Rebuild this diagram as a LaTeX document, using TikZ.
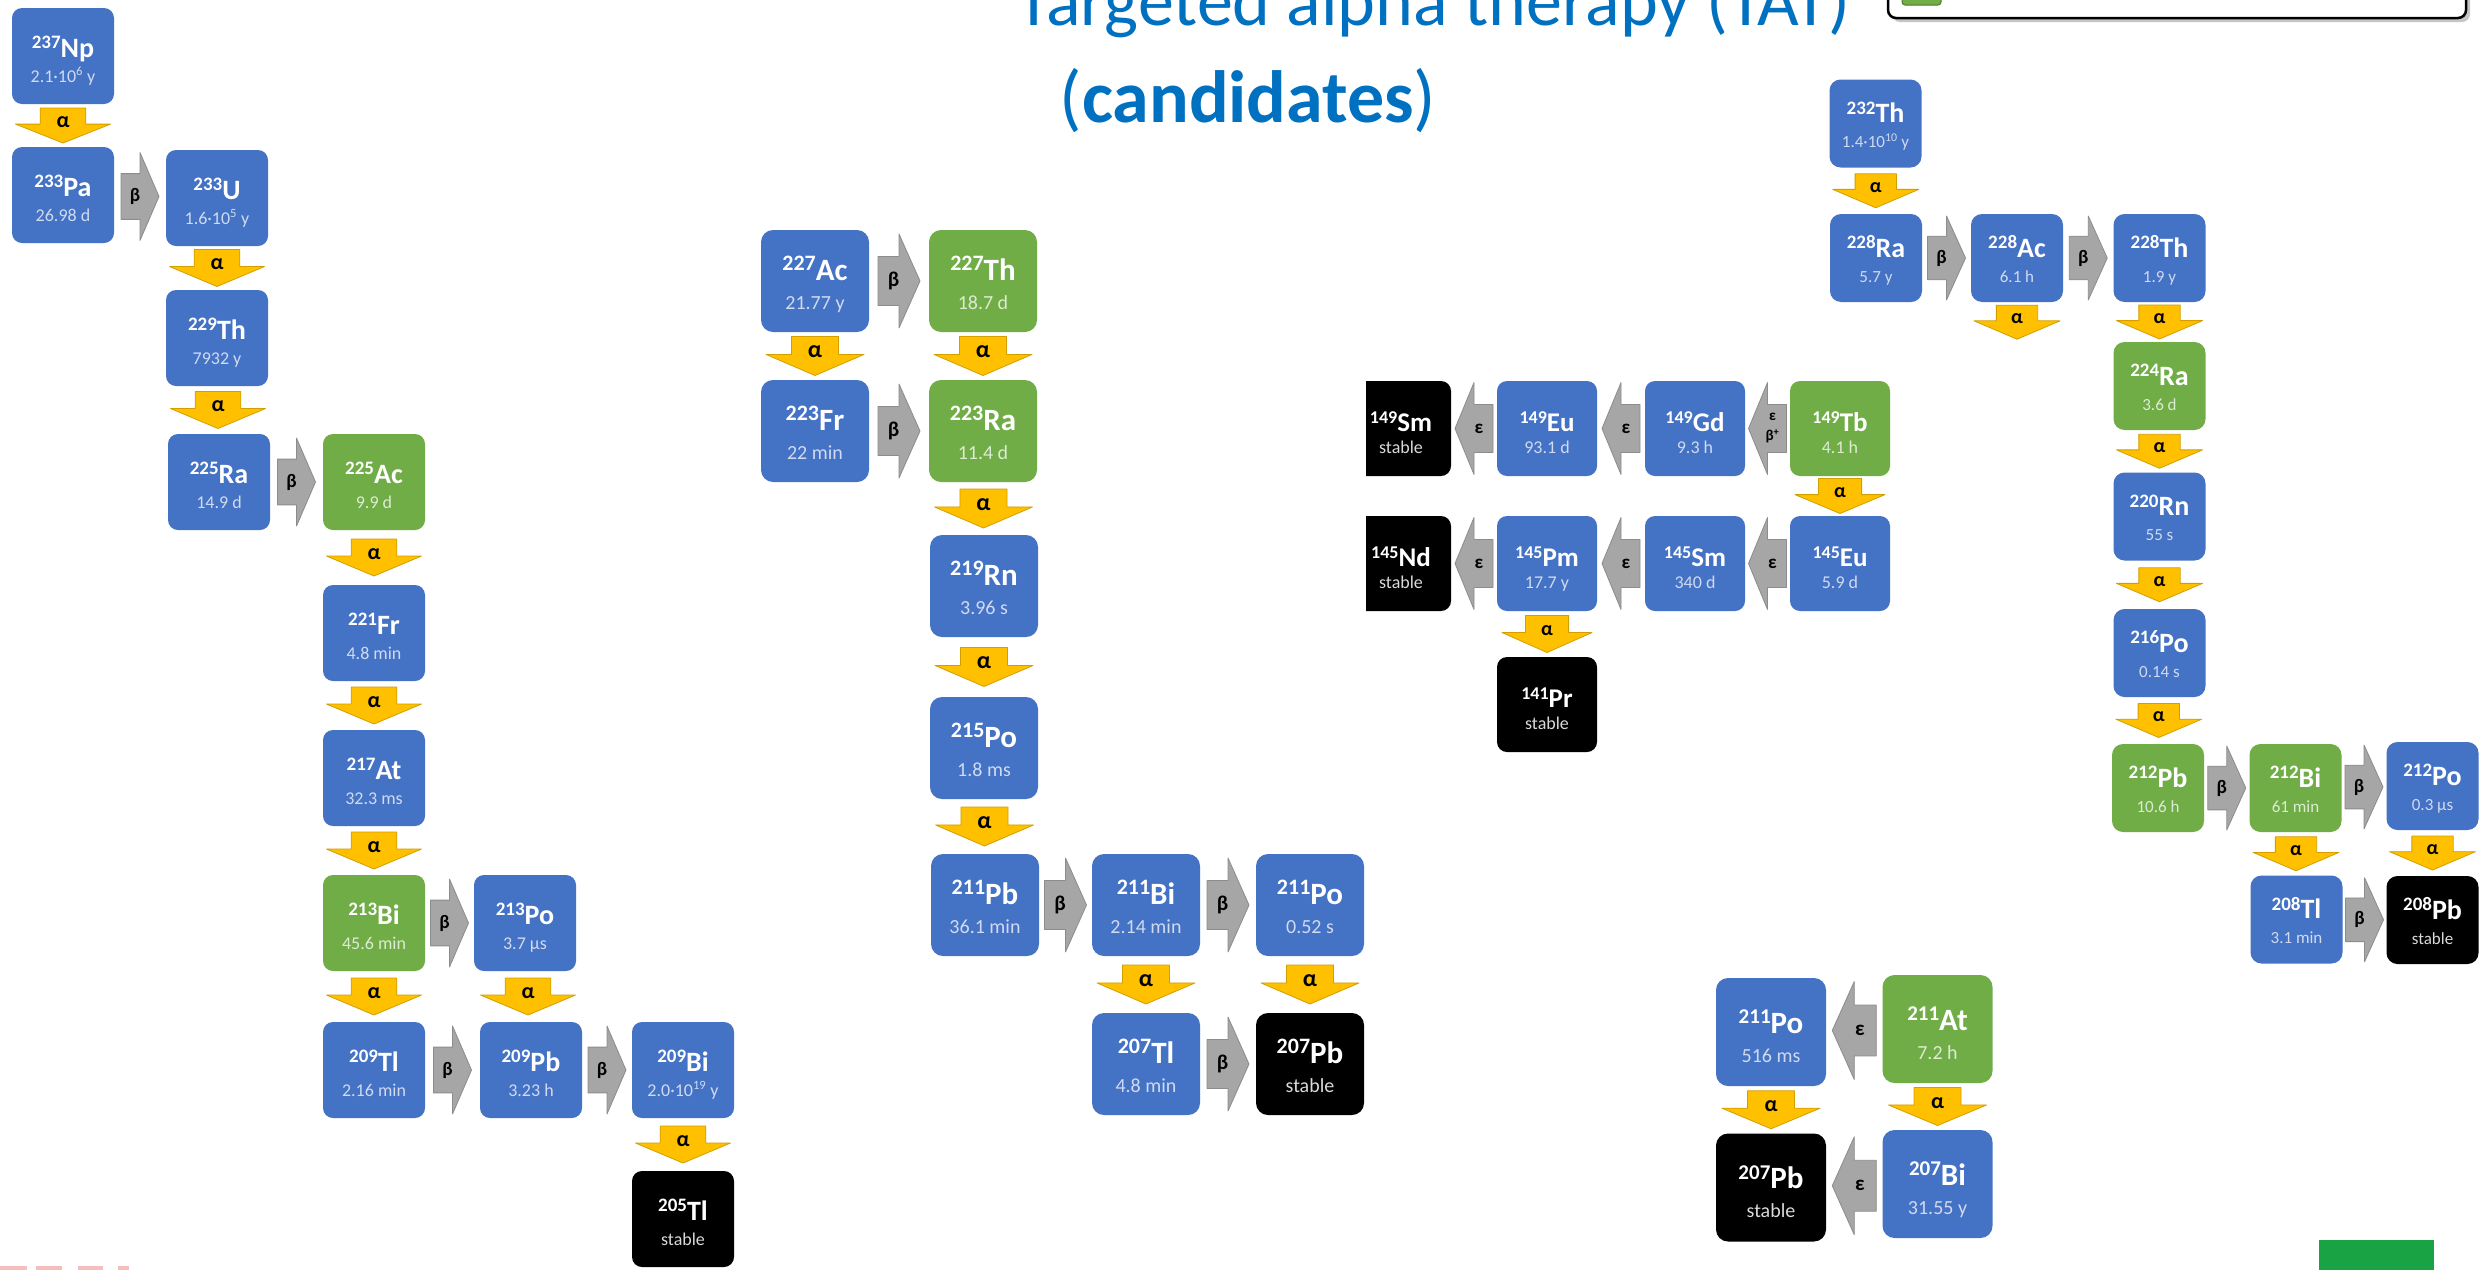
\documentclass[tikz,border=0pt]{standalone}
\usepackage{fontspec}
\setmainfont{Carlito}
\usetikzlibrary{calc}
\definecolor{boxblue}{HTML}{4472C4}
\definecolor{boxgreen}{HTML}{70AD47}
\definecolor{bboxhl}{HTML}{D0DAF0}
\definecolor{gboxhl}{HTML}{DDEBD2}
\definecolor{kboxhl}{HTML}{D9D9D9}
\definecolor{alphay}{HTML}{FFC000}
\definecolor{alphae}{HTML}{D39E00}
\definecolor{betag}{HTML}{A6A6A6}
\definecolor{betae}{HTML}{8C8C8C}
\definecolor{titleblue}{HTML}{0070C0}
\definecolor{logogreen}{HTML}{1AA345}
\definecolor{logopink}{HTML}{F6BDBD}

\newcommand\setgrp[8]{\def\ElS{#1}\def\SupS{#2}\def\HlS{#3}\def\BOne{#4}\def\BTwo{#5}\def\BW{#6}\def\BH{#7}\def\BR{#8}}
\newcommand\iso[7]{%
  \node[isobox,#1,minimum width=\BW,minimum height=\BH,rounded corners=\BR] (#2) at (#3,#4) {};
  \node[anchor=base,inner sep=0,text=white,font=\fontsize{\ElS}{\ElS}\selectfont\bfseries] (#2-m) at ($(#2.center)+(0,\BOne)$) {\raisebox{0.3em}{\fontsize{\SupS}{\SupS}\selectfont #5}#6};
  \node[anchor=base,inner sep=0,text=#1hl,font=\fontsize{\HlS}{\HlS}\selectfont] (#2-h) at ($(#2.center)+(0,\BTwo)$) {#7};
}

\tikzset{
  isobox/.style={inner sep=0, draw=none},
  bbox/.style={fill=boxblue},
  gbox/.style={fill=boxgreen},
  kbox/.style={fill=black},
  arrlabel/.style={inner sep=0, text=black, align=center},
  pics/adown/.style n args={4}{code={
    \path[fill=alphay, draw=alphae, line width=0.8, line join=round]
      (-0.24*#1,-0.5*#2) -- (0.24*#1,-0.5*#2) -- (0.24*#1,-0.04*#2) -- (0.5*#1,-0.04*#2)
      -- (0,0.5*#2) -- (-0.5*#1,-0.04*#2) -- (-0.24*#1,-0.04*#2) -- cycle;
    \node[arrlabel, font=\fontsize{#3}{#3}\selectfont\bfseries] (-l) at (0,-0.1*#2) {#4};
  }},
  pics/bright/.style n args={4}{code={
    \path[fill=betag, draw=betae, line width=0.8, line join=round]
      (-0.5*#1,-0.26*#2) -- (0,-0.26*#2) -- (0,-0.5*#2) -- (0.5*#1,0)
      -- (0,0.5*#2) -- (0,0.26*#2) -- (-0.5*#1,0.26*#2) -- cycle;
    \node[arrlabel, font=\fontsize{#3}{#3}\selectfont\bfseries] (-l) at (-0.13*#1,0) {#4};
  }},
  pics/eleft/.style n args={4}{code={
    \path[fill=betag, draw=betae, line width=0.8, line join=round]
      (0.5*#1,-0.26*#2) -- (0,-0.26*#2) -- (0,-0.5*#2) -- (-0.5*#1,0)
      -- (0,0.5*#2) -- (0,0.26*#2) -- (0.5*#1,0.26*#2) -- cycle;
    \node[arrlabel, font=\fontsize{#3}{#3}\selectfont\bfseries] (-l) at (0.13*#1,0) {#4};
  }},
}

\begin{document}
\begin{tikzpicture}[x=1pt,y=-1pt]
\useasboundingbox (0,0) rectangle (2483,1269);
\clip (0,0) rectangle (2483,1269);
\fill[white] (0,0) rectangle (2483,1269);

% title
\node[anchor=base east, inner sep=0, text=titleblue, font=\fontsize{72}{72}\selectfont] (title) at (1851,25) {Targeted alpha therapy (TAT)};
\node[anchor=base, inner sep=0, text=titleblue, font=\fontsize{74}{74}\selectfont] (subtitle) at (1248,122) {(\textbf{candidates})};

% legend (clipped)
\fill[gray!45, rounded corners=8] (1892,-40) rectangle (2470,22);
\draw[line width=2.5, fill=white, rounded corners=8] (1888,-40) rectangle (2466,18);
\draw[fill=boxgreen, draw=boxgreen!70!black, line width=1, rounded corners=3] (1902,-30) rectangle (1941,5);

% bottom fragments
\fill[logogreen] (2319,1240) rectangle (2434,1275);
\fill[logopink] (0,1266) rectangle (27,1272);
\fill[logopink] (36,1266) rectangle (62,1272);
\fill[logopink] (78,1266) rectangle (103,1272);
\fill[logopink] (118,1266) rectangle (129,1272);

% ===== Group A: 237Np chain =====
\setgrp{28}{19}{18}{1}{26}{102}{96}{10}
\iso{bbox}{np237}{63}{56}{237}{Np}{2.1·10\textsuperscript{6} y}
\iso{bbox}{pa233}{63}{195}{233}{Pa}{26.98 d}
\iso{bbox}{u233}{217}{198}{233}{U}{1.6·10\textsuperscript{5} y}
\iso{bbox}{th229}{217}{338}{229}{Th}{7932 y}
\iso{bbox}{ra225}{219}{482}{225}{Ra}{14.9 d}
\iso{gbox}{ac225}{374}{482}{225}{Ac}{9.9 d}
\iso{bbox}{fr221}{374}{633}{221}{Fr}{4.8 min}
\iso{bbox}{at217}{374}{778}{217}{At}{32.3 ms}
\iso{gbox}{bi213}{374}{923}{213}{Bi}{45.6 min}
\iso{bbox}{po213}{525}{923}{213}{Po}{3.7 µs}
\iso{bbox}{tl209}{374}{1070}{209}{Tl}{2.16 min}
\iso{bbox}{pb209}{531}{1070}{209}{Pb}{3.23 h}
\iso{bbox}{bi209}{683}{1070}{209}{Bi}{2.0·10\textsuperscript{19} y}
\iso{kbox}{tl205}{683}{1219}{205}{Tl}{stable}

\pic (aA1) at ($(np237.south)!0.5!(pa233.north)$) {adown={95}{35}{22}{α}};
\pic (aA2) at ($(u233.south)!0.5!(th229.north)$) {adown={95}{37}{22}{α}};
\pic (aA3) at ($(th229.south)!0.5!(ra225.north)$) {adown={95}{37}{22}{α}};
\pic (aA4) at ($(ac225.south)!0.5!(fr221.north)$) {adown={95}{37}{22}{α}};
\pic (aA5) at ($(fr221.south)!0.5!(at217.north)$) {adown={95}{37}{22}{α}};
\pic (aA6) at ($(at217.south)!0.5!(bi213.north)$) {adown={95}{37}{22}{α}};
\pic (aA7) at ($(bi213.south)!0.5!(tl209.north)$) {adown={95}{37}{22}{α}};
\pic (aA8) at ($(po213.south)!0.5!(pb209.north)$) {adown={95}{37}{22}{α}};
\pic (aA9) at ($(bi209.south)!0.5!(tl205.north)$) {adown={95}{37}{22}{α}};
\pic (bA1) at ($(pa233.east)!0.5!(u233.west)$) {bright={38}{88}{19}{β}};
\pic (bA2) at ($(ra225.east)!0.5!(ac225.west)$) {bright={38}{88}{19}{β}};
\pic (bA3) at ($(bi213.east)!0.5!(po213.west)$) {bright={38}{88}{19}{β}};
\pic (bA4) at ($(tl209.east)!0.5!(pb209.west)$) {bright={38}{88}{19}{β}};
\pic (bA5) at ($(pb209.east)!0.5!(bi209.west)$) {bright={38}{88}{19}{β}};

% ===== Group B: 227Ac chain =====
\setgrp{31}{22}{20}{-1}{28}{108}{102}{12}
\iso{bbox}{ac227}{815}{281}{227}{Ac}{21.77 y}
\iso{gbox}{th227}{983}{281}{227}{Th}{18.7 d}
\iso{bbox}{fr223}{815}{431}{223}{Fr}{22 min}
\iso{gbox}{ra223}{983}{431}{223}{Ra}{11.4 d}
\iso{bbox}{rn219}{984}{586}{219}{Rn}{3.96 s}
\iso{bbox}{po215}{984}{748}{215}{Po}{1.8 ms}
\iso{bbox}{pb211}{985}{905}{211}{Pb}{36.1 min}
\iso{bbox}{bi211}{1146}{905}{211}{Bi}{2.14 min}
\iso{bbox}{po211}{1310}{905}{211}{Po}{0.52 s}
\iso{bbox}{tl207}{1146}{1064}{207}{Tl}{4.8 min}
\iso{kbox}{pb207}{1310}{1064}{207}{Pb}{stable}

\pic (bB1) at ($(ac227.east)!0.5!(th227.west)$) {bright={42}{94}{21}{β}};
\pic (bB2) at ($(fr223.east)!0.5!(ra223.west)$) {bright={42}{94}{21}{β}};
\pic (bB3) at ($(pb211.east)!0.5!(bi211.west)$) {bright={42}{94}{21}{β}};
\pic (bB4) at ($(bi211.east)!0.5!(po211.west)$) {bright={42}{94}{21}{β}};
\pic (bB5) at ($(tl207.east)!0.5!(pb207.west)$) {bright={42}{94}{21}{β}};
\pic (aB1) at ($(ac227.south)!0.5!(fr223.north)$) {adown={98}{39}{24}{α}};
\pic (aB2) at ($(th227.south)!0.5!(ra223.north)$) {adown={98}{39}{24}{α}};
\pic (aB3) at ($(ra223.south)!0.5!(rn219.north)$) {adown={98}{39}{24}{α}};
\pic (aB4) at ($(rn219.south)!0.5!(po215.north)$) {adown={98}{39}{24}{α}};
\pic (aB5) at ($(po215.south)!0.5!(pb211.north)$) {adown={98}{39}{24}{α}};
\pic (aB6) at ($(bi211.south)!0.5!(tl207.north)$) {adown={98}{39}{24}{α}};
\pic (aB7) at ($(po211.south)!0.5!(pb207.north)$) {adown={98}{39}{24}{α}};

% ===== Group C: 149Tb =====
\setgrp{27}{18}{18}{3}{25}{100}{95}{10}
\begin{scope}
\clip (1366,360) rectangle (1470,630);
\iso{kbox}{sm149}{1401}{428.5}{149}{Sm}{stable}
\iso{kbox}{nd145}{1401}{563.5}{145}{Nd}{stable}
\end{scope}
\iso{bbox}{eu149}{1547}{428.5}{149}{Eu}{93.1 d}
\iso{bbox}{gd149}{1695}{428.5}{149}{Gd}{9.3 h}
\iso{gbox}{tb149}{1840}{428.5}{149}{Tb}{4.1 h}
\iso{bbox}{pm145}{1547}{563.5}{145}{Pm}{17.7 y}
\iso{bbox}{sm145}{1695}{563.5}{145}{Sm}{340 d}
\iso{bbox}{eu145}{1840}{563.5}{145}{Eu}{5.9 d}
\iso{kbox}{pr141}{1547}{704.5}{141}{Pr}{stable}

\pic (eC1) at ($(sm149.east)!0.5!(eu149.west)$) {eleft={38}{92}{19}{ε}};
\pic (eC2) at ($(eu149.east)!0.5!(gd149.west)$) {eleft={38}{92}{19}{ε}};
\pic (eC3) at ($(gd149.east)!0.5!(tb149.west)$) {eleft={38}{92}{15}{ε\\[5pt]β\textsuperscript{+}}};
\pic (eC4) at ($(nd145.east)!0.5!(pm145.west)$) {eleft={38}{92}{19}{ε}};
\pic (eC5) at ($(pm145.east)!0.5!(sm145.west)$) {eleft={38}{92}{19}{ε}};
\pic (eC6) at ($(sm145.east)!0.5!(eu145.west)$) {eleft={38}{92}{19}{ε}};
\pic (aC1) at ($(tb149.south)!0.5!(eu145.north)$) {adown={90}{35}{20}{α}};
\pic (aC2) at ($(pm145.south)!0.5!(pr141.north)$) {adown={90}{37}{20}{α}};

% ===== Group D: 232Th chain =====
\setgrp{28}{19}{17}{-1}{24}{92}{88}{11}
\iso{bbox}{th232}{1875.5}{123.5}{232}{Th}{1.4·10\textsuperscript{10} y}
\iso{bbox}{ra228}{1876}{258}{228}{Ra}{5.7 y}
\iso{bbox}{ac228}{2017}{258}{228}{Ac}{6.1 h}
\iso{bbox}{th228}{2159.5}{258}{228}{Th}{1.9 y}
\iso{gbox}{ra224}{2159.5}{386}{224}{Ra}{3.6 d}
\iso{bbox}{rn220}{2159.5}{516.5}{220}{Rn}{55 s}
\iso{bbox}{po216}{2159.5}{653}{216}{Po}{0.14 s}
\iso{gbox}{pb212}{2158}{788}{212}{Pb}{10.6 h}
\iso{gbox}{bi212}{2295.5}{788}{212}{Bi}{61 min}
\iso{bbox}{po212}{2432.5}{786}{212}{Po}{0.3 µs}
\iso{bbox}{tl208}{2296.5}{919.5}{208}{Tl}{3.1 min}
\iso{kbox}{pb208}{2432.5}{920}{208}{Pb}{stable}
\coordinate (ac228a) at ($(ac228.south)+(0,20)$);

\pic (aD1) at ($(th232.south)!0.5!(ra228.north)$) {adown={86}{34}{20}{α}};
\pic (aD2) at (ac228a) {adown={86}{34}{20}{α}};
\pic (aD3) at ($(th228.south)!0.5!(ra224.north)$) {adown={86}{34}{20}{α}};
\pic (aD4) at ($(ra224.south)!0.5!(rn220.north)$) {adown={86}{34}{20}{α}};
\pic (aD5) at ($(rn220.south)!0.5!(po216.north)$) {adown={86}{34}{20}{α}};
\pic (aD6) at ($(po216.south)!0.5!(pb212.north)$) {adown={86}{34}{20}{α}};
\pic (aD7) at ($(bi212.south)!0.5!(tl208.north)$) {adown={86}{34}{20}{α}};
\pic (aD8) at ($(po212.south)!0.5!(pb208.north)$) {adown={86}{34}{20}{α}};
\pic (bD1) at ($(ra228.east)!0.5!(ac228.west)$) {bright={38}{84}{19}{β}};
\pic (bD2) at ($(ac228.east)!0.5!(th228.west)$) {bright={38}{84}{19}{β}};
\pic (bD3) at ($(pb212.east)!0.5!(bi212.west)$) {bright={38}{84}{19}{β}};
\pic (bD4) at ($(bi212.east)!0.5!(po212.west)$) {bright={38}{84}{19}{β}};
\pic (bD5) at ($(tl208.east)!0.5!(pb208.west)$) {bright={38}{84}{19}{β}};

% ===== Group E: 211At =====
\setgrp{31}{21}{20}{1}{30}{110}{108}{12}
\iso{bbox}{po211b}{1771}{1032}{211}{Po}{516 ms}
\iso{gbox}{at211}{1937.5}{1029}{211}{At}{7.2 h}
\iso{kbox}{pb207b}{1771}{1187.5}{207}{Pb}{stable}
\iso{bbox}{bi207}{1937.5}{1184}{207}{Bi}{31.55 y}

\pic (eE1) at ($(po211b.east)!0.5!(at211.west)$) {eleft={44}{98}{21}{ε}};
\pic (eE2) at ($(pb207b.east)!0.5!(bi207.west)$) {eleft={44}{98}{21}{ε}};
\pic (aE1) at ($(po211b.south)!0.5!(pb207b.north)$) {adown={98}{38}{22}{α}};
\pic (aE2) at ($(at211.south)!0.5!(bi207.north)$) {adown={98}{38}{22}{α}};
\end{tikzpicture}
\end{document}
